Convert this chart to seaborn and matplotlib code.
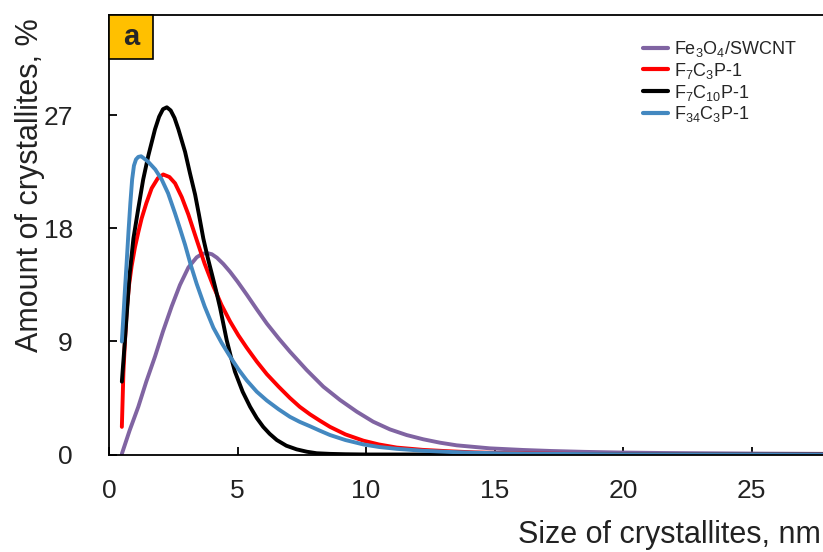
import numpy as np
import pandas as pd
import matplotlib
matplotlib.use("Agg")
import matplotlib.pyplot as plt
import seaborn as sns
from matplotlib.patches import Rectangle
from matplotlib.lines import Line2D

# ---- data ----
labels = [r'Fe$_\mathregular{3}$O$_\mathregular{4}$/SWCNT',
          r'F$_\mathregular{7}$C$_\mathregular{3}$P-1',
          r'F$_\mathregular{7}$C$_\mathregular{10}$P-1',
          r'F$_\mathregular{34}$C$_\mathregular{3}$P-1']
colors = ['#8064A2', '#FF0000', '#000000', '#4388C0']

purple_x = [0.5, 0.8, 1.14, 1.45, 1.79, 2.1, 2.44, 2.76, 3.09, 3.41, 3.6, 3.8, 4.0, 4.2,
            4.45, 4.71, 5.0, 5.36, 5.75, 6.14, 6.6, 7.04, 7.69, 8.34, 8.99, 9.64, 10.28,
            10.93, 11.58, 12.23, 12.88, 13.53, 14.82, 16.12, 17.2, 18.5, 19.8, 21.5, 23.0,
            25.5, 28.0]
purple_y = [0.05, 1.9, 3.8, 5.8, 7.8, 9.8, 11.8, 13.5, 14.9, 15.7, 15.95, 16.05, 15.95, 15.67,
            15.17, 14.55, 13.77, 12.73, 11.56, 10.43, 9.25, 8.19, 6.73, 5.4, 4.34, 3.41, 2.61,
            2.0, 1.55, 1.21, 0.94, 0.73, 0.49, 0.36, 0.28, 0.21, 0.16, 0.12, 0.1,
            0.07, 0.05]

red_x = [0.5, 0.56, 0.62, 0.69, 0.78, 0.88, 1.01, 1.14, 1.27, 1.45, 1.66, 1.9, 2.11, 2.35,
         2.57, 2.83, 3.09, 3.41, 3.72, 4.06, 4.38, 4.71, 5.03, 5.36, 5.75, 6.14, 6.6, 7.04,
         7.42, 7.82, 8.2, 8.6, 9.2, 9.9, 10.5, 11.2, 12.2, 13.3, 14.2, 15.2, 16.5, 18.0,
         20.0, 22.0, 25.0, 28.0]
red_y = [2.2, 6.5, 9.0, 11.5, 13.5, 15.0, 16.5, 17.7, 18.8, 20.0, 21.2, 22.0, 22.3, 22.1,
         21.6, 20.5, 19.1, 17.1, 15.2, 13.4, 11.9, 10.6, 9.5, 8.5, 7.4, 6.4, 5.4, 4.5,
         3.8, 3.2, 2.7, 2.2, 1.6, 1.1, 0.8, 0.55, 0.37, 0.25, 0.17, 0.12, 0.08, 0.05,
         0.03, 0.02, 0.01, 0.01]

black_x = [0.5, 0.62, 0.8, 0.95, 1.14, 1.33, 1.53, 1.79, 1.95, 2.1, 2.25, 2.4, 2.55, 2.7,
           2.96, 3.15, 3.35, 3.5, 3.67, 3.85, 4.0, 4.16, 4.32, 4.45, 4.58, 4.74, 4.9, 5.2,
           5.49, 5.75, 6.0, 6.25, 6.53, 6.9, 7.3, 7.7, 8.08, 8.6, 9.2, 10.0, 28.0]
black_y = [5.8, 9.1, 14.3, 17.2, 19.6, 21.9, 23.8, 25.9, 26.9, 27.5, 27.65, 27.4, 26.8, 25.9,
           24.1, 22.4, 20.7, 19.1, 17.2, 15.6, 14.4, 13.1, 11.7, 10.4, 9.1, 7.8, 6.6, 5.0,
           3.8, 2.9, 2.2, 1.65, 1.15, 0.7, 0.41, 0.22, 0.1, 0.05, 0.02, 0.0, 0.0]

blue_x = [0.5, 0.56, 0.62, 0.69, 0.76, 0.83, 0.9, 0.97, 1.05, 1.14, 1.25, 1.35, 1.53, 1.8,
          2.05, 2.3, 2.57, 2.76, 2.96, 3.18, 3.41, 3.72, 4.06, 4.38, 4.71, 5.03, 5.36, 5.75,
          6.14, 6.6, 7.04, 7.42, 7.82, 8.2, 8.6, 9.2, 9.9, 10.5, 11.2, 12.2, 13.3, 14.2,
          15.2, 16.5, 18.0, 20.0, 22.0, 25.0, 28.0]
blue_y = [9.0, 11.0, 13.1, 15.4, 17.8, 20.0, 21.9, 23.0, 23.5, 23.7, 23.75, 23.6, 23.3, 22.7,
          21.9, 20.8, 19.2, 18.0, 16.7, 15.1, 13.6, 11.8, 10.1, 8.9, 7.8, 6.8, 5.9, 5.0,
          4.3, 3.6, 3.0, 2.6, 2.25, 1.9, 1.55, 1.15, 0.8, 0.6, 0.45, 0.3, 0.2, 0.14,
          0.1, 0.06, 0.04, 0.02, 0.015, 0.01, 0.0]

x_ticks = [0, 5, 10, 15, 20, 25]
y_ticks = [0, 9, 18, 27]

series_x = [purple_x, red_x, black_x, blue_x]
series_y = [purple_y, red_y, black_y, blue_y]
frames = []
for lab, xs, ys in zip(labels, series_x, series_y):
    frames.append(pd.DataFrame({'size': xs, 'amount': ys, 'sample': lab}))
df = pd.concat(frames, ignore_index=True)

sns.set_style('ticks')
plt.rcParams['font.family'] = ['Liberation Sans', 'DejaVu Sans']
plt.rcParams['mathtext.fontset'] = 'custom'
plt.rcParams['mathtext.rm'] = 'Liberation Sans'
plt.rcParams['mathtext.it'] = 'Liberation Sans:italic'
plt.rcParams['mathtext.bf'] = 'Liberation Sans:bold'

fig = plt.figure(figsize=(8.23, 5.52), dpi=100)
ax = fig.add_axes([109/823, (552-454.5)/552, (823-109)/823, (454.5-15)/552])

sns.lineplot(data=df, x='size', y='amount', hue='sample', hue_order=labels,
             palette=colors, sort=False, estimator=None, units='sample',
             linewidth=2.8, ax=ax, legend=False)

ax.set_xlim(0, 27.78)
ax.set_ylim(0, 35)
ax.set_xticks(x_ticks)
ax.set_yticks(y_ticks)
ax.tick_params(axis='both', direction='in', length=6, width=1.3, color='black',
               labelsize=19, labelcolor='#222222')
ax.tick_params(axis='y', pad=26)
ax.tick_params(axis='x', pad=18)
for s in ['left', 'bottom', 'top']:
    ax.spines[s].set_linewidth(1.3)
    ax.spines[s].set_color('black')
ax.spines['right'].set_visible(False)

ax.set_xlabel('Size of crystallites, nm', fontsize=22, loc='right', color='#222222')
ax.xaxis.set_label_coords(0.997, -0.148)
ax.set_ylabel('Amount of crystallites, %', fontsize=22, loc='top', color='#222222')
ax.yaxis.set_label_coords(-0.09, 0.993)

handles = [Line2D([], [], color=c, linewidth=3) for c in colors]
ax.legend(handles, labels, loc='upper left', bbox_to_anchor=(0.748, 0.9455),
          frameon=False, fontsize=13, borderpad=0, borderaxespad=0,
          handlelength=1.4, handletextpad=0.3, labelspacing=0.1)

box = Rectangle((0, 0.9), 44/714, 0.1, transform=ax.transAxes, facecolor='#FFC000',
                edgecolor='black', linewidth=1.2, zorder=5, clip_on=False)
ax.add_patch(box)
ax.text(22/714, 0.95, 'a', transform=ax.transAxes, ha='center', va='center',
        fontsize=21, fontweight='bold', zorder=6)

fig.savefig('out.png', dpi=100)
